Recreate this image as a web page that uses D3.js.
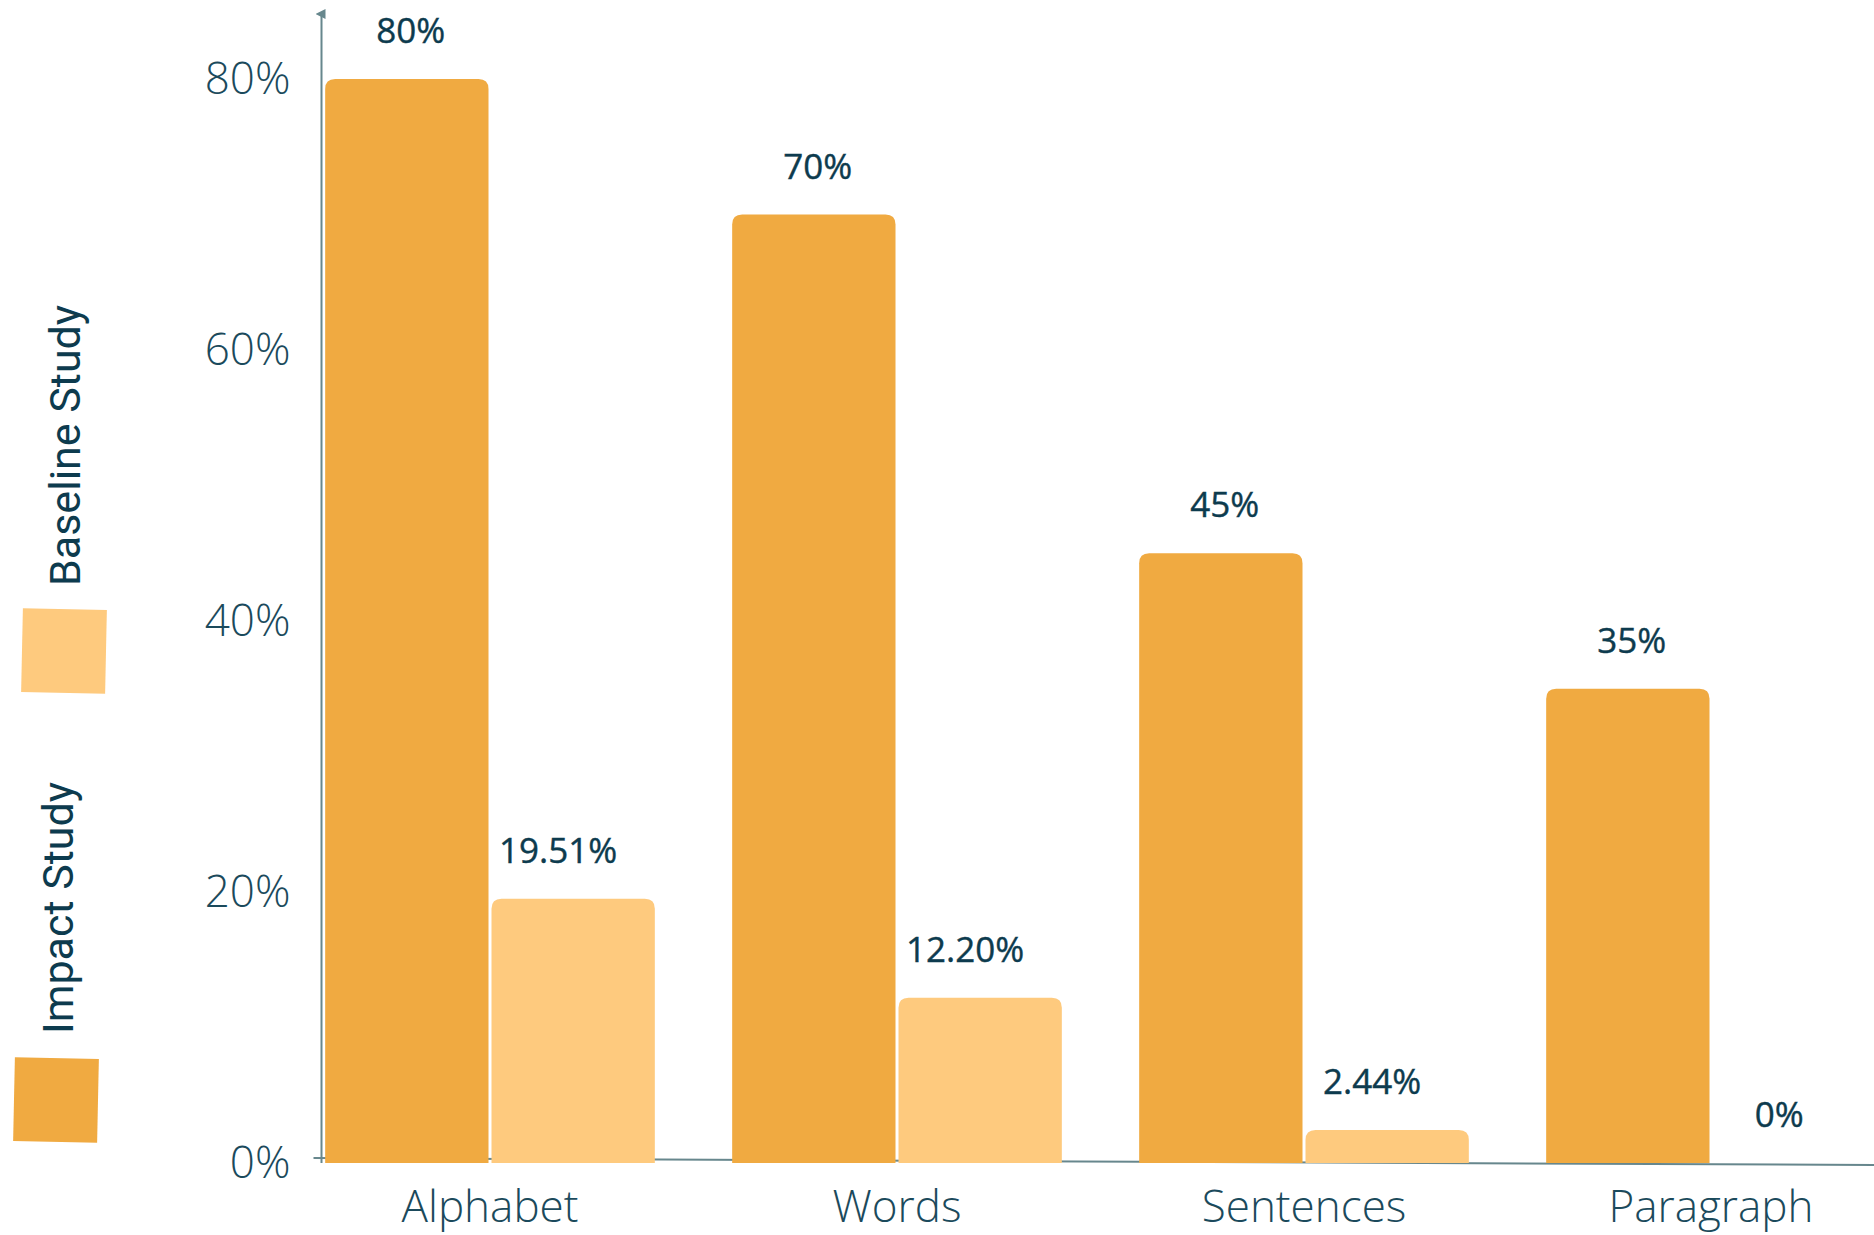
<!DOCTYPE html>
<html>
<head>
<meta charset="utf-8">
<script src="https://cdn.jsdelivr.net/npm/d3@7"></script>
<style>
  html, body { margin: 0; padding: 0; background: #ffffff; overflow: hidden; }
  svg { display: block; }
</style>
</head>
<body>
<svg id="chart" width="1874" height="1235"></svg>
<script>
// ---- data ----
const categories = ["Alphabet", "Words", "Sentences", "Paragraph"];
const seriesNames = ["Impact Study", "Baseline Study"];
const impactValues = [80, 70, 45, 35];
const baselineValues = [19.51, 12.20, 2.44, 0];
const impactLabels = ["80%", "70%", "45%", "35%"];
const baselineLabels = ["19.51%", "12.20%", "2.44%", "0%"];
const yTickValues = [0, 20, 40, 60, 80];
const yTickLabels = ["0%", "20%", "40%", "60%", "80%"];
const seriesColors = ["#F0AA41", "#FECA7E"];

// ---- setup ----
const W = 1874, H = 1235;
const svg = d3.select("#chart");
const textColor = "#0D3B4E";
const axisColor = "#67878D";

const y = d3.scaleLinear().domain([0, 80]).range([1163, 79]);
const x0 = d3.scaleBand().domain(categories).range([286.5, 1914.5])
  .paddingInner(0.19).paddingOuter(0.095);
const x1 = d3.scaleBand().domain(seriesNames).range([0, x0.bandwidth()])
  .paddingInner(0.018);
const color = d3.scaleOrdinal().domain(seriesNames).range(seriesColors);
const labelShift = d3.scaleOrdinal().domain(seriesNames).range([4, -15]);

const rows = categories.map((c, i) => ({
  category: c,
  values: [
    { series: seriesNames[0], value: impactValues[i], label: impactLabels[i] },
    { series: seriesNames[1], value: baselineValues[i], label: baselineLabels[i] }
  ]
}));

const axisX = x0.range()[0] + 35; // y-axis position derived from band start

// ---- x axis line (slightly tilted as in reference) ----
svg.append("line")
  .attr("x1", axisX - 8).attr("y1", y(0) - 5)
  .attr("x2", W).attr("y2", y(0) + 2)
  .attr("stroke", axisColor).attr("stroke-width", 2);

// ---- y axis line with arrow ----
svg.append("defs").append("marker")
  .attr("id", "arrow").attr("viewBox", "0 0 10 10")
  .attr("refX", 5).attr("refY", 6)
  .attr("markerWidth", 5).attr("markerHeight", 5)
  .attr("orient", "auto-start-reverse")
  .append("path").attr("d", "M0,10 L5,0 L10,10 Z").attr("fill", axisColor);

svg.append("line")
  .attr("x1", axisX).attr("y1", y(0))
  .attr("x2", axisX).attr("y2", 14)
  .attr("stroke", axisColor).attr("stroke-width", 2)
  .attr("marker-end", "url(#arrow)");

// ---- y tick labels via d3 axis ----
const yAxis = d3.axisLeft(y).tickValues(yTickValues)
  .tickFormat((d, i) => yTickLabels[i]).tickSize(0).tickPadding(31);
const gy = svg.append("g").attr("transform", `translate(${axisX},0)`).call(yAxis);
gy.select(".domain").remove();
gy.selectAll("text")
  .attr("fill", "#1B4A5C")
  .style("font-family", "'Open Sans', sans-serif")
  .style("font-weight", 300)
  .style("font-size", "44px");

// ---- x category labels via d3 axis ----
const xAxis = d3.axisBottom(x0).tickSize(0).tickPadding(0);
const gx = svg.append("g").attr("transform", `translate(0,${y(0)})`).call(xAxis);
gx.select(".domain").remove();
gx.selectAll("text")
  .attr("dy", null)
  .attr("y", 59)
  .attr("fill", "#1B4A5C")
  .style("font-family", "'Open Sans', sans-serif")
  .style("font-weight", 300)
  .style("font-size", "44px");

// ---- bars ----
function topRounded(xp, yp, w, h, r) {
  if (h <= 0) return "";
  r = Math.min(r, h, w / 2);
  return `M${xp},${yp + h} L${xp},${yp + r} Q${xp},${yp} ${xp + r},${yp} ` +
         `L${xp + w - r},${yp} Q${xp + w},${yp} ${xp + w},${yp + r} L${xp + w},${yp + h} Z`;
}

const groups = svg.append("g").selectAll("g").data(rows).join("g")
  .attr("transform", d => `translate(${x0(d.category)},0)`);

groups.selectAll("path").data(d => d.values).join("path")
  .attr("d", d => topRounded(x1(d.series), y(d.value), x1.bandwidth(), y(0) - y(d.value), 10))
  .attr("fill", d => color(d.series));

groups.selectAll("text").data(d => d.values).join("text")
  .attr("x", d => x1(d.series) + x1.bandwidth() / 2 + labelShift(d.series))
  .attr("y", d => y(d.value) - 36)
  .attr("text-anchor", "middle")
  .attr("fill", textColor)
  .style("font-family", "'Open Sans', sans-serif")
  .style("font-weight", 500)
  .style("font-size", "35px")
  .style("stroke", textColor)
  .style("stroke-width", "0.4px")
  .text(d => d.label);

// ---- legend (rotated, left side) ----
const legend = svg.append("g");
const legendItems = [
  { name: seriesNames[1], swatch: [22, 609], textX: 80, textBottom: 586 },
  { name: seriesNames[0], swatch: [14, 1058], textX: 73, textBottom: 1034 }
];
legendItems.forEach(it => {
  legend.append("rect")
    .attr("x", it.swatch[0]).attr("y", it.swatch[1])
    .attr("width", 84).attr("height", 84)
    .attr("fill", color(it.name))
    .attr("transform", `rotate(1.2 ${it.swatch[0] + 42} ${it.swatch[1] + 42})`);
  legend.append("text")
    .attr("transform", `translate(${it.textX},${it.textBottom}) rotate(-90)`)
    .attr("text-anchor", "start")
    .attr("fill", textColor)
    .style("font-family", "Roboto, sans-serif")
    .style("font-size", "43px")
    .text(it.name);
});
</script>
</body>
</html>
